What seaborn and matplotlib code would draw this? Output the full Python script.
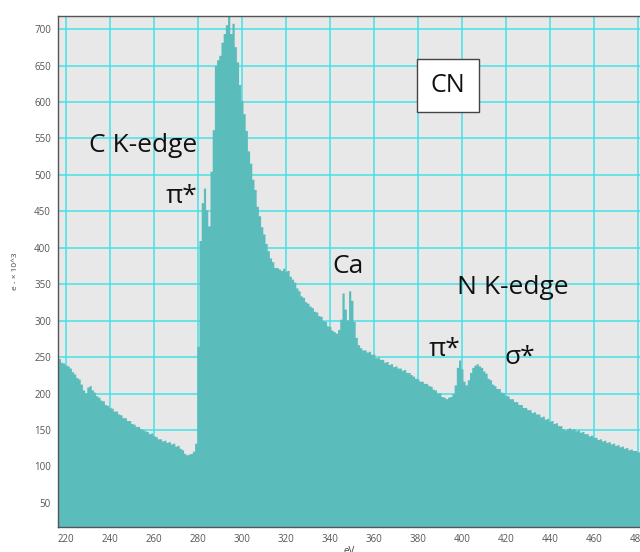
import numpy as np
import pandas as pd
import matplotlib
matplotlib.use("Agg")
import matplotlib.pyplot as plt
import seaborn as sns

# energy loss axis (eV), one channel per eV
energy = np.arange(216, 482)

# counts (e- x 10^3), 216 ... 481 eV
counts = [
    246, 248, 243, 242, 239, 238, 235, 230, 227, 222,   # 216-225
    220, 213, 205, 201, 209, 211, 205, 202, 197, 195,   # 226-235
    191, 190, 185, 184, 181, 180, 176, 176, 172, 171,   # 236-245
    167, 167, 163, 163, 159, 158, 155, 155, 152, 151,   # 246-255
    149, 148, 145, 146, 142, 141, 138, 138, 135, 136,   # 256-265
    133, 134, 131, 132, 128, 129, 125, 123, 118, 116,   # 266-275
    117, 118, 121, 132, 265, 410, 462, 482, 452, 430,   # 276-285
    505, 562, 650, 658, 664, 682, 694, 706, 722, 694,   # 286-295
    708, 676, 655, 624, 602, 584, 561, 533, 516, 494,   # 296-305
    480, 457, 444, 429, 419, 406, 396, 386, 381, 373,   # 306-315
    373, 371, 369, 372, 368, 369, 361, 357, 353, 345,   # 316-325
    341, 334, 332, 326, 324, 320, 318, 313, 312, 307,   # 326-335
    306, 300, 299, 293, 292, 287, 285, 283, 288, 302,   # 336-345
    338, 316, 301, 341, 328, 299, 277, 267, 263, 260,   # 346-355
    260, 257, 258, 254, 254, 249, 250, 247, 247, 243,   # 356-365
    244, 240, 241, 237, 238, 235, 235, 232, 233, 229,   # 366-375
    229, 226, 224, 221, 220, 217, 217, 214, 214, 211,   # 376-385
    210, 206, 205, 201, 201, 196, 195, 193, 195, 196,   # 386-395
    200, 212, 236, 246, 234, 217, 212, 219, 229, 236,   # 396-405
    239, 241, 238, 236, 231, 228, 221, 219, 213, 211,   # 406-415
    207, 207, 202, 201, 197, 197, 193, 193, 189, 189,   # 416-425
    185, 185, 181, 181, 178, 178, 174, 175, 172, 172,   # 426-435
    168, 169, 165, 166, 162, 163, 159, 160, 156, 156,   # 436-445
    152, 150, 152, 153, 151, 152, 149, 150, 147, 148,   # 446-455
    145, 145, 142, 143, 140, 140, 137, 138, 135, 136,   # 456-465
    133, 134, 131, 132, 129, 130, 127, 128, 125, 126,   # 466-475
    123, 124, 122, 122, 120, 120,                       # 476-481
]

# annotations: (text, eV, counts)
labels = ["C K-edge", "π*", "Ca", "N K-edge", "π*", "σ*"]
label_x = [255, 272.7, 348.2, 423.2, 392.3, 426.4]
label_y = [540, 470, 375, 346, 260, 250]

df = pd.DataFrame({"eV": energy, "counts": counts})

sns.set_theme(style="darkgrid")
plt.rcParams["font.family"] = ["Open Sans", "DejaVu Sans"]

fig = plt.figure(figsize=(6.4, 5.52), dpi=100)
ax = fig.add_axes([58 / 640, 1 - 527 / 552, 582 / 640, 511 / 552])
ax.set_facecolor("#e8e8e8")
ax.set_axisbelow(True)
ax.grid(True, color="#45e2e6", linewidth=1.1)

sns.histplot(data=df, x="eV", weights="counts", discrete=True,
             element="step", fill=True, color="#5bbcbc", alpha=1,
             linewidth=0, ax=ax)

ax.set_xlim(216.4, 481)
ax.set_ylim(17, 718)
ax.set_xticks(np.arange(220, 481, 20))
ax.set_yticks(np.arange(50, 701, 50))
ax.tick_params(axis="both", labelsize=7, colors="#555555", length=3,
               width=0.8, direction="out", pad=2)
for s in ["left", "bottom", "top"]:
    ax.spines[s].set_visible(True)
    ax.spines[s].set_color("#555555")
    ax.spines[s].set_linewidth(1.0)
ax.spines["right"].set_visible(False)

ax.set_xlabel("eV", fontsize=7, color="#444444")
ax.xaxis.set_label_coords(0.5, -0.038)
ax.set_ylabel("e - × 10^3", fontsize=6, color="#444444")
ax.yaxis.set_label_coords(-0.067, 0.5)

for t, x, y in zip(labels, label_x, label_y):
    ax.text(x, y, t, fontsize=19, ha="center", va="center", color="#111111")

ax.text(393.6, 623, "CN", fontsize=18, ha="center", va="center",
        color="#111111",
        bbox=dict(boxstyle="square,pad=0.55", facecolor="white",
                  edgecolor="#444444", linewidth=1.0))

fig.savefig("out.png", dpi=100)
